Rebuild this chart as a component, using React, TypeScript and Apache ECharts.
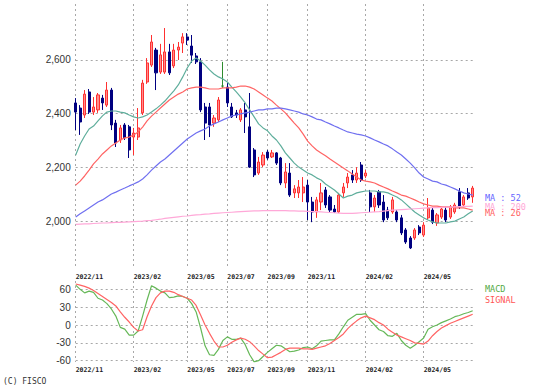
import React, { useEffect, useRef } from "react";
import * as echarts from "echarts";

const weeks = [
  "2022/11/07","2022/11/14","2022/11/21","2022/11/28","2022/12/05","2022/12/12","2022/12/19","2022/12/26",
  "2023/01/02","2023/01/09","2023/01/16","2023/01/23","2023/01/30","2023/02/06","2023/02/13","2023/02/20",
  "2023/02/27","2023/03/06","2023/03/13","2023/03/20","2023/03/27","2023/04/03","2023/04/10","2023/04/17",
  "2023/04/24","2023/05/01","2023/05/08","2023/05/15","2023/05/22","2023/05/29","2023/06/05","2023/06/12",
  "2023/06/19","2023/06/26","2023/07/03","2023/07/10","2023/07/17","2023/07/24","2023/07/31","2023/08/07",
  "2023/08/14","2023/08/21","2023/08/28","2023/09/04","2023/09/11","2023/09/18","2023/09/25","2023/10/02",
  "2023/10/09","2023/10/16","2023/10/23","2023/10/30","2023/11/06","2023/11/13","2023/11/20","2023/11/27",
  "2023/12/04","2023/12/11","2023/12/18","2023/12/25","2024/01/01","2024/01/08","2024/01/15","2024/01/22",
  "2024/01/29","2024/02/05","2024/02/12","2024/02/19","2024/02/26","2024/03/04","2024/03/11","2024/03/18",
  "2024/03/25","2024/04/01","2024/04/08","2024/04/15","2024/04/22","2024/04/29","2024/05/06","2024/05/13",
  "2024/05/20","2024/05/27","2024/06/03","2024/06/10","2024/06/17","2024/06/24","2024/07/01","2024/07/08",
  "2024/07/15","2024/07/22"
];

const tickLabels = ["2022/11","2023/02","2023/05","2023/07","2023/09","2023/11","2024/02","2024/05"];

const opens = [
  2440,2421,2395,2481,2406,2414,2458,2432,2488,2365,2302,2358,2351,2313,2313,2403,2518,2581,2637,2555,
  2555,2630,2578,2637,2663,2686,2652,2615,2593,2425,2425,2365,2377,2503,2499,2425,2403,2377,2414,2351,
  2265,2179,2209,2257,2239,2254,2235,2142,2179,2105,2105,2105,2134,2071,2034,2071,2116,2090,2045,2034,
  2105,2142,2172,2153,2209,2168,2105,2053,2109,2071,2041,2034,2034,2012,1967,1937,1937,1978,1948,2012,
  2041,1993,2015,2041,2015,2034,2109,2060,2105,2090
];
const closes = [
  2406,2369,2473,2406,2425,2470,2440,2488,2358,2291,2347,2310,2265,2328,2347,2514,2589,2667,2552,2619,
  2630,2552,2637,2648,2686,2674,2618,2593,2414,2365,2358,2384,2451,2503,2440,2388,2395,2414,2388,2201,
  2172,2220,2246,2235,2254,2216,2142,2183,2097,2120,2127,2127,2071,2034,2079,2105,2060,2041,2034,2097,
  2127,2164,2153,2179,2153,2179,2053,2086,2060,2004,2012,2079,2004,1956,1922,1900,1967,1956,1985,2049,
  1996,2023,2045,2004,2053,2060,2053,2090,2086,2123
];
const lows = [
  2339,2321,2384,2399,2395,2403,2414,2425,2339,2276,2291,2302,2235,2246,2302,2395,2511,2574,2488,2548,
  2548,2544,2570,2600,2626,2656,2589,2585,2406,2302,2313,2351,2369,2496,2425,2384,2384,2369,2328,2198,
  2164,2172,2201,2228,2235,2209,2134,2123,2090,2086,2086,2071,2004,1996,2012,2041,2049,2034,2030,2030,
  2090,2123,2142,2142,2146,2160,2034,2034,2049,1996,2004,2027,1996,1948,1915,1896,1930,1948,1941,2004,
  1989,1982,2008,1996,2008,2027,2045,2053,2079,2068
];
const highs = [
  2458,2432,2488,2492,2462,2477,2470,2518,2496,2377,2358,2365,2358,2347,2421,2526,2607,2693,2645,2660,
  2719,2660,2660,2667,2700,2700,2693,2626,2607,2440,2440,2395,2462,2593,2514,2440,2414,2421,2440,2477,
  2272,2239,2257,2265,2265,2257,2239,2216,2216,2134,2153,2164,2153,2090,2090,2142,2127,2097,2060,2105,
  2142,2179,2190,2201,2220,2190,2116,2097,2116,2097,2053,2090,2041,2023,1974,1944,1974,1985,1996,2086,
  2049,2030,2053,2053,2060,2068,2123,2097,2123,2131
];
const dojiIndex = 33;

const ma13 = [
  2246,2287,2317,2343,2354,2373,2392,2406,2410,2410,2406,2403,2395,2388,2384,2388,2395,2406,2418,2432,
  2447,2466,2485,2507,2537,2570,2596,2607,2596,2581,2563,2548,2537,2529,2518,2499,2481,2462,2440,2414,
  2388,2362,2347,2336,2317,2302,2280,2254,2235,2216,2201,2190,2179,2172,2161,2153,2138,2127,2116,2101,
  2086,2093,2097,2105,2109,2112,2112,2112,2109,2109,2105,2097,2090,2079,2064,2049,2034,2023,2012,2004,
  1997,1993,1993,1993,1997,2000,2008,2015,2027,2038
];
const ma26 = [
  2134,2149,2168,2190,2213,2231,2250,2265,2280,2291,2302,2310,2313,2321,2332,2350,2373,2391,2406,2421,
  2436,2451,2462,2473,2481,2492,2496,2499,2499,2496,2492,2492,2492,2496,2496,2496,2499,2503,2503,2499,
  2492,2481,2470,2458,2447,2432,2418,2403,2384,2365,2347,2324,2298,2280,2265,2254,2243,2231,2220,2209,
  2198,2187,2175,2164,2153,2149,2146,2142,2134,2127,2120,2112,2105,2097,2093,2086,2079,2071,2064,2060,
  2056,2056,2053,2053,2053,2049,2049,2049,2045,2041
];
const ma52 = [
  2015,2027,2038,2049,2060,2071,2079,2090,2101,2108,2116,2123,2131,2138,2146,2157,2172,2190,2205,2220,
  2231,2246,2261,2276,2291,2306,2317,2328,2336,2343,2354,2362,2369,2377,2384,2392,2395,2399,2403,2406,
  2410,2414,2414,2418,2418,2421,2421,2418,2414,2410,2406,2399,2395,2388,2380,2377,2369,2362,2354,2347,
  2339,2332,2328,2324,2321,2317,2310,2302,2295,2287,2280,2269,2257,2246,2231,2216,2198,2179,2164,2157,
  2149,2146,2138,2134,2127,2120,2112,2105,2101,2097
];
const ma200 = [
  1988,1989,1990,1990,1991,1992,1993,1993,1994,1995,1995,1996,1997,1998,1999,2000,2002,2003,2005,2007,
  2010,2012,2014,2016,2018,2019,2021,2023,2024,2026,2027,2029,2030,2031,2032,2033,2034,2035,2036,2037,
  2038,2038,2039,2039,2039,2039,2039,2039,2038,2038,2037,2037,2036,2035,2035,2034,2033,2032,2031,2030,
  2029,2029,2029,2030,2031,2032,2033,2034,2035,2037,2039,2041,2042,2043,2044,2045,2046,2047,2048,2049,
  2050,2050,2051,2052,2052,2053,2054,2055,2055,2056
];

const macd = [
  67,60,54,57,55,45,42,36,27,15,-4,-7,-17,-17,-10,15,42,66,62,57,
  54,46,47,49,48,45,36,22,-5,-35,-50,-51,-41,-26,-20,-24,-24,-22,-33,-50,
  -62,-60,-53,-46,-40,-34,-35,-40,-45,-44,-42,-38,-37,-40,-35,-27,-26,-25,-25,-15,
  -3,8,13,18,18,19,8,0,-8,-11,-18,-19,-14,-26,-34,-39,-34,-28,-22,-7,
  -3,0,4,7,10,14,16,19,21,24
];
const signal = [
  69,67,65,62,58,53,48,43,38,32,22,13,5,-4,-10,-8,14,32,46,54,
  57,57,55,51,48,45,42,33,17,0,-14,-27,-37,-37,-34,-29,-25,-22,-24,-28,
  -35,-43,-49,-55,-54,-50,-46,-41,-39,-39,-39,-40,-40,-41,-39,-37,-35,-31,-26,-21,
  -15,-6,1,7,12,15,12,9,4,0,-7,-12,-17,-20,-23,-26,-30,-31,-32,-27,
  -18,-11,-5,-1,3,6,9,12,15,18
];

const priceTicks = [2000, 2200, 2400, 2600];
const macdTicks = [-60, -30, 0, 30, 60];

const GRID_DOT = { color: "#a8a8a8", width: 1, type: [2, 3] as number[] };
const MONO = "'DejaVu Sans Mono', monospace";

export default function App() {
  const ref = useRef<HTMLDivElement>(null);
  useEffect(() => {
    const chart = echarts.init(ref.current!, null, { renderer: "svg" });
    const showIdx = (i: number) => {
      const m = weeks[i].slice(0, 7);
      return tickLabels.includes(m) && (i === 0 || weeks[i - 1].slice(0, 7) !== m);
    };
    const candleData = weeks.map((_, i) => {
      const v = [opens[i], closes[i], lows[i], highs[i]];
      if (i === dojiIndex) {
        return {
          value: v,
          itemStyle: { color: "#2e8b2e", color0: "#2e8b2e", borderColor: "#2e8b2e", borderColor0: "#2e8b2e" },
        };
      }
      return v;
    });
    const xAxisBase = (gridIndex: number) => ({
      type: "category" as const,
      gridIndex,
      data: weeks,
      boundaryGap: false,
      axisLine: { show: false },
      axisTick: { show: false },
      axisLabel: {
        interval: (i: number) => showIdx(i),
        formatter: (v: string) => v.slice(0, 7),
        fontSize: 6.5,
        fontFamily: MONO,
        fontWeight: "bold" as const,
        color: "#222",
        align: "left" as const,
        margin: 4,
      },
      splitLine: { show: true, interval: (i: number) => showIdx(i), lineStyle: GRID_DOT },
    });
    const lineSeries = (name: string, data: number[], color: string, xi: number, yi: number) => ({
      name,
      type: "line" as const,
      xAxisIndex: xi,
      yAxisIndex: yi,
      data,
      symbol: "none",
      showSymbol: false,
      lineStyle: { color, width: 1.2 },
      itemStyle: { color },
      z: 3,
    });
    chart.setOption({
      animation: false,
      backgroundColor: "#ffffff",
      grid: [
        { left: 75.7, top: 4, width: 397, height: 265 },
        { left: 75.7, top: 281, width: 397, height: 81 },
      ],
      xAxis: [xAxisBase(0), xAxisBase(1)],
      yAxis: [
        {
          type: "value",
          gridIndex: 0,
          min: 1821.6,
          max: 2808.5,
          axisLine: { show: false },
          axisTick: { show: false, customValues: priceTicks },
          axisLabel: {
            customValues: priceTicks,
            formatter: (v: number) => v.toLocaleString("en-US"),
            fontSize: 10,
            fontFamily: "'Liberation Sans', Arial, sans-serif",
            color: "#333",
            margin: 5,
          },
          splitLine: { show: true, lineStyle: GRID_DOT },
        },
        {
          type: "value",
          gridIndex: 1,
          min: -62.2,
          max: 74,
          axisLine: { show: false },
          axisTick: { show: false, customValues: macdTicks },
          axisLabel: {
            customValues: macdTicks,
            fontSize: 10,
            fontFamily: "'Liberation Sans', Arial, sans-serif",
            color: "#333",
            margin: 5,
          },
          splitLine: { show: true, lineStyle: GRID_DOT },
        },
      ],
      series: [
        {
          type: "candlestick",
          xAxisIndex: 0,
          yAxisIndex: 0,
          data: candleData,
          barWidth: 2.6,
          clip: false,
          itemStyle: {
            color: "#ff8c8c",
            color0: "#000080",
            borderColor: "#ff3030",
            borderColor0: "#000080",
            borderWidth: 1,
          },
          z: 2,
        },
        lineSeries("MA13", ma13, "#5fae9c", 0, 0),
        lineSeries("MA26", ma26, "#ff6464", 0, 0),
        lineSeries("MA52", ma52, "#7070f0", 0, 0),
        lineSeries("MA200", ma200, "#ffa8d8", 0, 0),
        lineSeries("MACD", macd, "#66b858", 1, 1),
        lineSeries("SIGNAL", signal, "#ff6464", 1, 1),
      ],
      graphic: [
        { type: "text", x: 485, y: 198, style: { text: "MA : 52", fill: "#6666ff", font: `8.5px ${MONO}`, verticalAlign: "middle" } },
        { type: "text", x: 485, y: 207, style: { text: "MA : 200", fill: "#ffa8d8", font: `8.5px ${MONO}`, verticalAlign: "middle" } },
        { type: "text", x: 485, y: 213, style: { text: "MA : 26", fill: "#ff6464", font: `8.5px ${MONO}`, verticalAlign: "middle" } },
        { type: "text", x: 485, y: 289, style: { text: "MACD", fill: "#55aa44", font: `8.5px ${MONO}`, verticalAlign: "middle" } },
        { type: "text", x: 485, y: 300, style: { text: "SIGNAL", fill: "#ff5555", font: `8.5px ${MONO}`, verticalAlign: "middle" } },
        { type: "text", x: 3, y: 381, style: { text: "(C) FISCO", fill: "#333", font: `8px ${MONO}`, verticalAlign: "middle" } },
      ],
    });
    return () => chart.dispose();
  }, []);
  return (
    <div
      ref={ref}
      style={{ position: "fixed", left: 0, top: 0, width: 546, height: 391, background: "#fff" }}
    />
  );
}
